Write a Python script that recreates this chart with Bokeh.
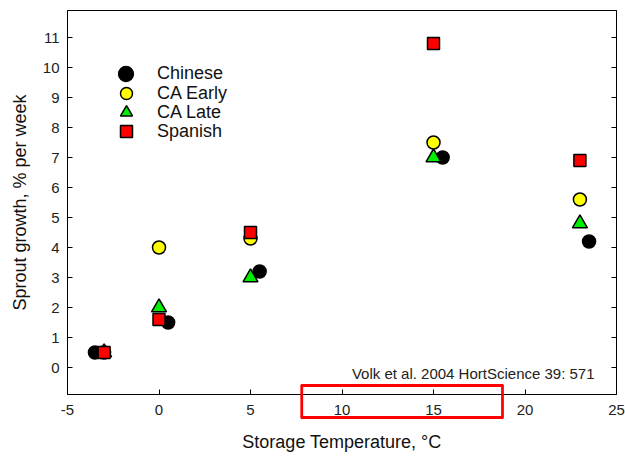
from bokeh.plotting import figure
from bokeh.models import (Range1d, LinearAxis, FixedTicker, Legend, LegendItem,
                          Label)
from bokeh.embed import file_html
from bokeh.resources import INLINE

FONT = "Liberation Sans"

# ---- data ----
chinese_x = [-3.5, 0.5, 5.5, 15.5, 23.5]
chinese_y = [0.5, 1.5, 3.2, 7.0, 4.2]
ca_early_x = [-3, 0, 5, 15, 23]
ca_early_y = [0.5, 4.0, 4.3, 7.5, 5.6]
ca_late_x = [-3, 0, 5, 15, 23]
ca_late_y = [0.5, 2.0, 3.0, 7.0, 4.8]
spanish_x = [-3, 0, 5, 15, 23]
spanish_y = [0.5, 1.6, 4.5, 10.8, 6.9]

series_names = ["Chinese", "CA Early", "CA Late", "Spanish"]
x_ticks = [-5, 0, 5, 10, 15, 20, 25]
y_ticks = [0, 1, 2, 3, 4, 5, 6, 7, 8, 9, 10, 11]
citation = "Volk et al. 2004 HortScience 39: 571"

p = figure(width=625, height=456, output_backend="svg", toolbar_location=None,
           x_range=Range1d(-5, 25), y_range=Range1d(-0.9, 11.9),
           min_border_left=67, min_border_right=9, min_border_top=10,
           min_border_bottom=62)
p.background_fill_color = "white"
p.border_fill_color = "white"
p.outline_line_color = "black"
p.outline_line_width = 1
p.xgrid.visible = False
p.ygrid.visible = False

for ax in (p.xaxis[0], p.yaxis[0]):
    ax.major_tick_in = 5
    ax.major_tick_out = 0
    ax.minor_tick_in = 0
    ax.minor_tick_out = 0
    ax.axis_line_color = "black"
    ax.major_tick_line_color = "black"
    ax.major_label_text_font = FONT
    ax.major_label_text_font_size = "15px"
    ax.major_label_text_color = "#222222"
    ax.axis_label_text_font = FONT
    ax.axis_label_text_font_size = "18px"
    ax.axis_label_text_font_style = "normal"
    ax.axis_label_text_color = "#111111"

p.xaxis[0].ticker = FixedTicker(ticks=x_ticks)
p.xaxis[0].major_label_overrides = {t: str(t) for t in x_ticks}
p.yaxis[0].ticker = FixedTicker(ticks=y_ticks)
p.xaxis[0].axis_label = "Storage Temperature, °C"
p.yaxis[0].axis_label = "Sprout growth, % per week"
p.xaxis[0].major_label_standoff = 10
p.xaxis[0].axis_label_standoff = 14
p.yaxis[0].major_label_standoff = 8
p.yaxis[0].axis_label_standoff = 10

right = LinearAxis(ticker=FixedTicker(ticks=y_ticks))
right.major_tick_in = 5
right.major_tick_out = 0
right.minor_tick_in = 0
right.minor_tick_out = 0
right.major_label_overrides = {t: "" for t in y_ticks}
right.major_label_standoff = 0
right.axis_line_color = "black"
p.add_layout(right, "right")

r1 = p.scatter(chinese_x, chinese_y, marker="circle", size=13,
               fill_color="black", line_color="black", line_width=1.5)
r2 = p.scatter(ca_early_x, ca_early_y, marker="circle", size=13,
               fill_color="#ffff00", line_color="black", line_width=1.5)
r3 = p.scatter(ca_late_x, ca_late_y, marker="triangle", size=15,
               fill_color="#00ee00", line_color="black", line_width=1.5)
r4 = p.scatter(spanish_x, spanish_y, marker="square", size=12,
               fill_color="#ff0000", line_color="black", line_width=1.5)

# one single-row legend per series, stacked 19 px apart
row_centers = [74, 93, 112, 131]   # px from top of canvas
glyph_boxes = [37, 30, 30, 30]
frame_bottom, frame_left, glyph_cx, label_x = 394, 67, 126, 157
for name, r, cy, g in zip(series_names, [r1, r2, r3, r4], row_centers, glyph_boxes):
    x_off = int(round(glyph_cx - g / 2 - frame_left))
    lg = Legend(items=[LegendItem(label=name, renderers=[r])],
                location=(x_off, int(round(frame_bottom - cy - g / 2))),
                glyph_width=g, glyph_height=g, label_height=g,
                spacing=0, padding=0, margin=0,
                label_standoff=int(round(label_x - (frame_left + x_off + g))),
                border_line_alpha=0, background_fill_alpha=0,
                label_text_font=FONT, label_text_font_size="18px",
                label_text_color="#111111")
    p.add_layout(lg)

p.add_layout(Label(x=23.8, y=-0.2, text=citation,
                   text_align="right", text_baseline="middle",
                   text_font=FONT, text_font_size="15px", text_color="#222222"))

# red highlight frame straddling the x axis, built from four thin bordered
# labels (side-panel labels are not clipped to the plot frame)
BOX_X0, BOX_X1, BOX_Y0, BOX_Y1 = 7.8, 18.77, -1.667, -0.6
box_cx, box_cy = (BOX_X0 + BOX_X1) / 2, (BOX_Y0 + BOX_Y1) / 2

def edge(x, y, px, py, lw):
    return Label(x=x, y=y, text=" ", text_align="center", text_baseline="middle",
                 text_font_size="1px", padding=dict(x=px, y=py),
                 border_line_color="#ff0000", border_line_width=lw,
                 border_line_alpha=1.0, background_fill_alpha=0)

p.add_layout(edge(box_cx, BOX_Y1, 100, 0, 2))            # top edge (inside frame)
p.add_layout(edge(box_cx, BOX_Y0, 100, 0, 2), "below")   # bottom edge
p.add_layout(edge(BOX_X0, box_cy, 0, 16, 2.5), "left")   # left edge
p.add_layout(edge(BOX_X1, box_cy, 0, 16, 2.5), "left")   # right edge

open("out.html", "w").write(file_html(p, INLINE))
